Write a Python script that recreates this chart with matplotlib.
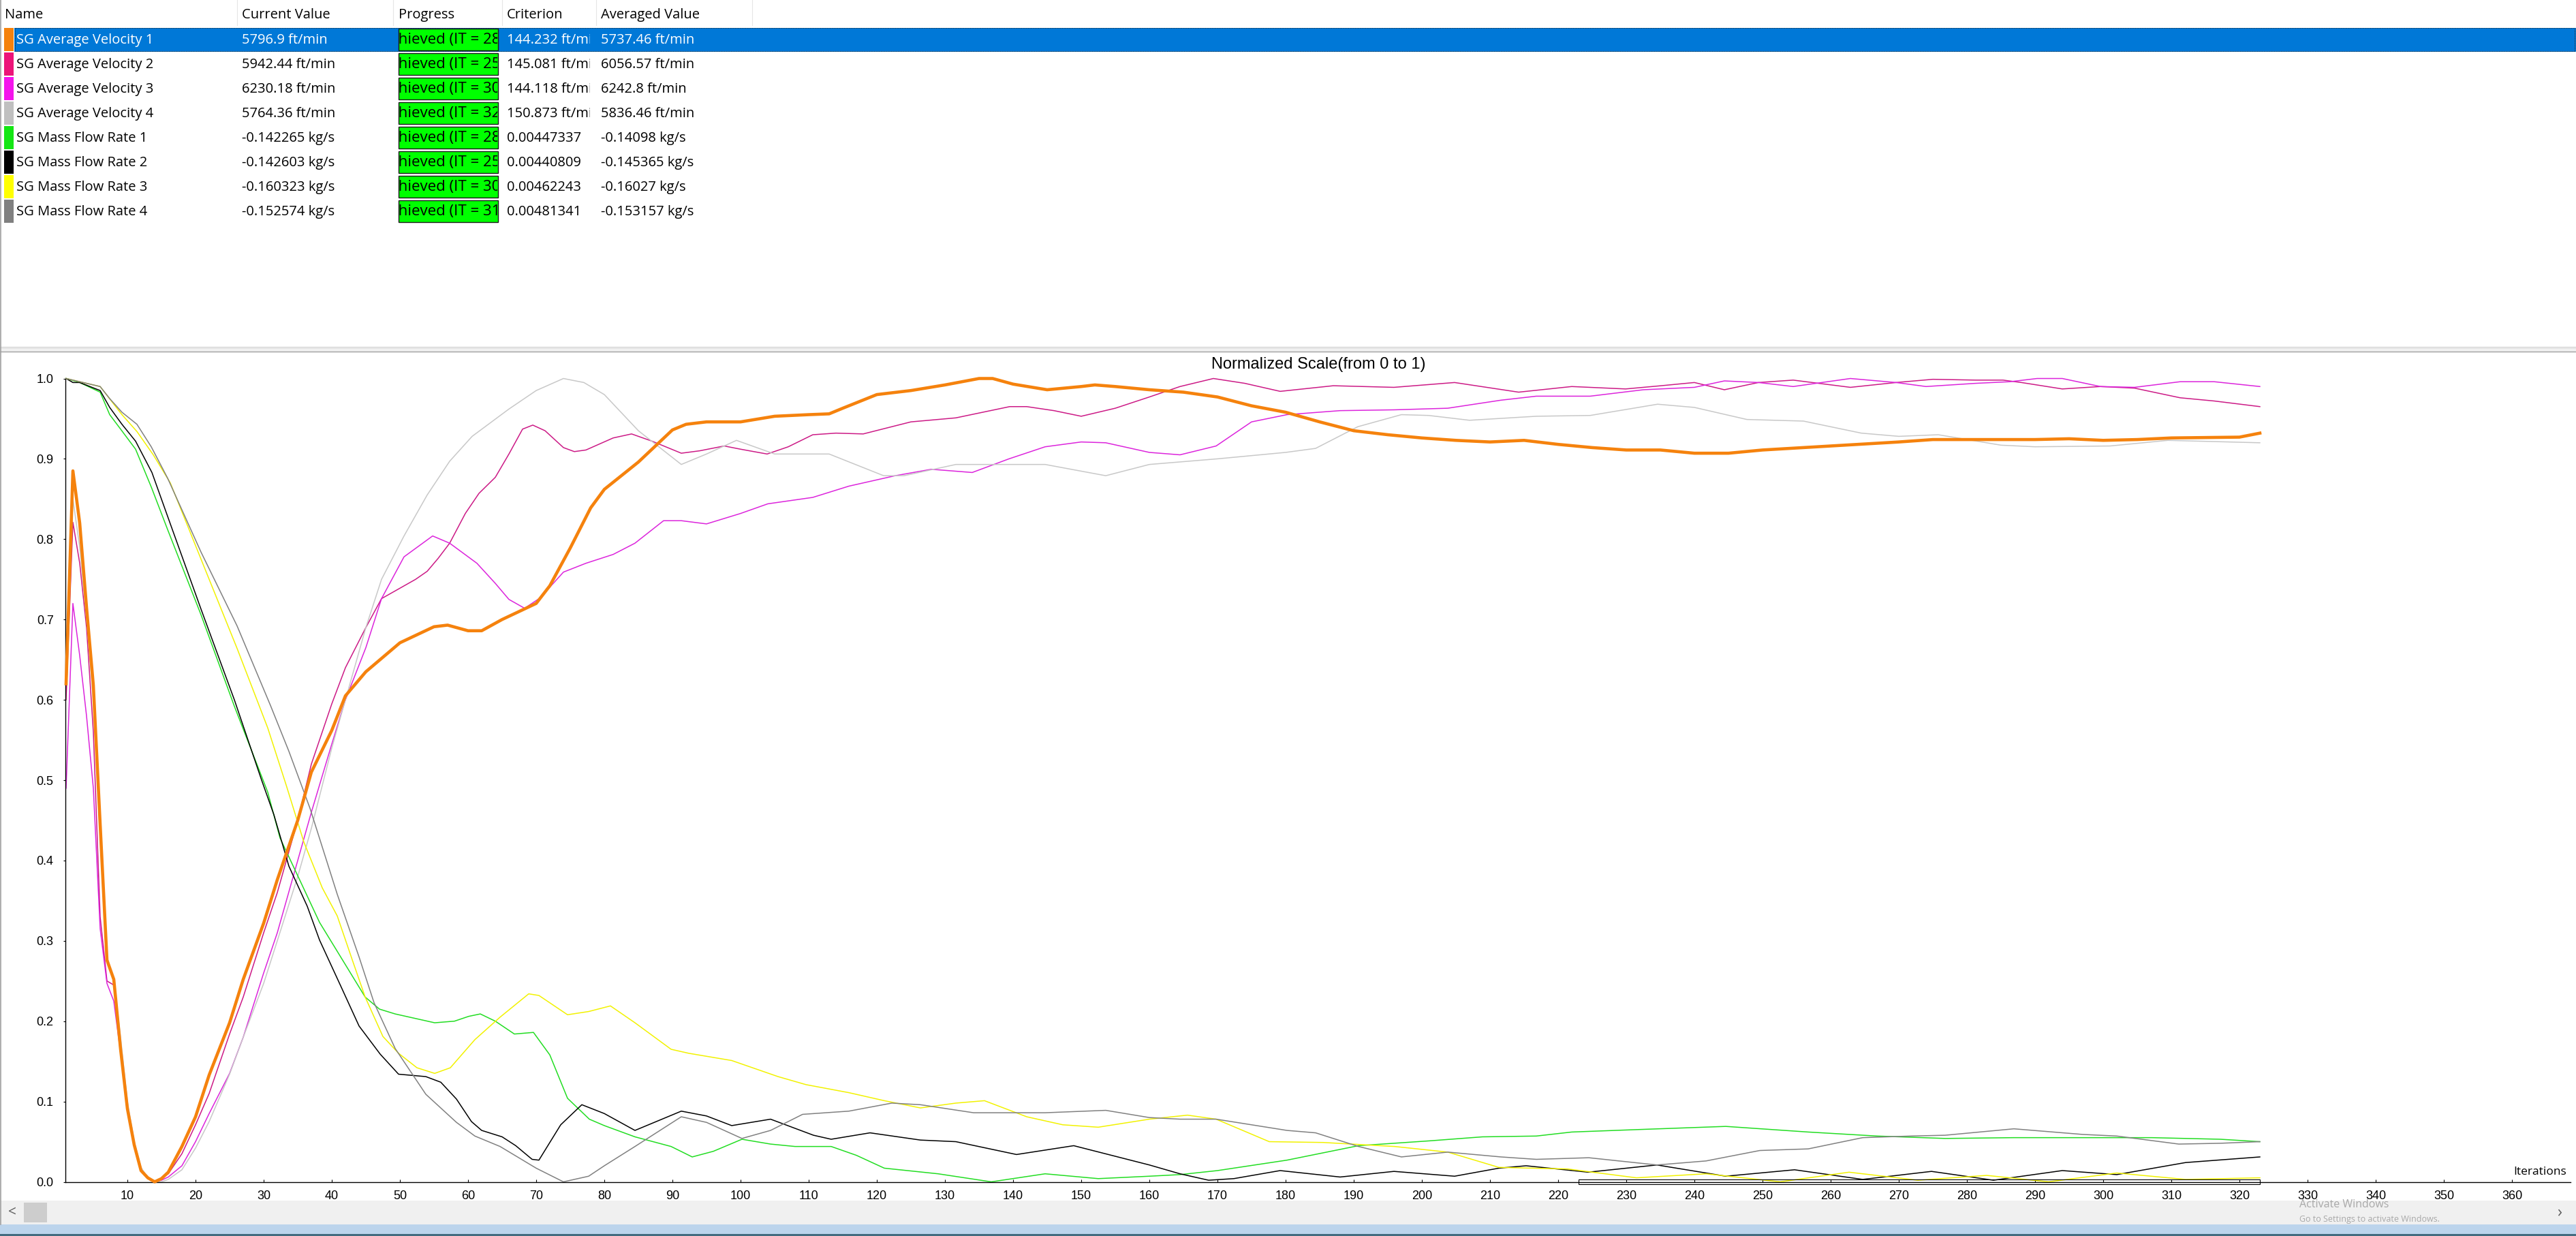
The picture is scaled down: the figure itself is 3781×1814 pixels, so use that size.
"""Residual-monitor style screenshot: table of monitors above a normalized convergence plot."""
import matplotlib
matplotlib.use("Agg")
import matplotlib.pyplot as plt                                    # noqa: E402
from matplotlib.patches import Rectangle                           # noqa: E402
from matplotlib.transforms import Bbox                             # noqa: E402

W, H = 3781, 1814
UI_FONT = ["Open Sans", "DejaVu Sans"]
PLOT_FONT = ["Liberation Sans", "DejaVu Sans"]

# ---- table ---------------------------------------------------------------
NAMES = ["SG Average Velocity 1", "SG Average Velocity 2", "SG Average Velocity 3",
         "SG Average Velocity 4", "SG Mass Flow Rate 1", "SG Mass Flow Rate 2",
         "SG Mass Flow Rate 3", "SG Mass Flow Rate 4"]
CURRENT = ["5796.9 ft/min", "5942.44 ft/min", "6230.18 ft/min", "5764.36 ft/min",
           "-0.142265 kg/s", "-0.142603 kg/s", "-0.160323 kg/s", "-0.152574 kg/s"]
PROGRESS_IT = [286, 253, 306, 323, 286, 253, 306, 319]
CRITERION = ["144.232 ft/min", "145.081 ft/min", "144.118 ft/min", "150.873 ft/min",
             "0.00447337", "0.00440809", "0.00462243", "0.00481341"]
AVERAGED = ["5737.46 ft/min", "6056.57 ft/min", "6242.8 ft/min", "5836.46 ft/min",
            "-0.14098 kg/s", "-0.145365 kg/s", "-0.16027 kg/s", "-0.153157 kg/s"]
SWATCH = ["#f5820d", "#ec1479", "#f414ec", "#c0c0c0",
          "#14e614", "#000000", "#ffff00", "#808080"]
LINE_COLORS = ["#f5820d", "#cc1a86", "#dc24dc", "#c8c8c8",
               "#22dd22", "#000000", "#f2f200", "#808080"]

# ---- series (iteration, normalized value) ---------------------------------
V1_IT = [1, 2, 3, 4, 5, 6, 7, 8, 9, 10, 11, 12, 13, 14, 15, 16, 18, 20, 22, 25, 27,
         30, 32, 35, 37, 40, 42, 45, 50, 55, 57, 60, 62, 65, 70, 72, 75, 78, 80, 85,
         90, 92, 95, 100, 105, 110, 113, 115, 120, 125, 130, 135, 137, 140, 145,
         150, 152, 155, 160, 165, 170, 175, 180, 185, 190, 195, 200, 205, 210, 215,
         220, 225, 230, 235, 240, 245, 250, 260, 270, 275, 280, 290, 295, 300, 305,
         310, 320, 323]
V1 = [0.62, 0.885, 0.82, 0.715, 0.618, 0.445, 0.276, 0.252, 0.165, 0.091, 0.046,
      0.014, 0.005, 0.0, 0.004, 0.012, 0.044, 0.081, 0.133, 0.198, 0.252, 0.322,
      0.376, 0.45, 0.51, 0.562, 0.605, 0.635, 0.671, 0.691, 0.693, 0.686, 0.686,
      0.7, 0.72, 0.742, 0.789, 0.839, 0.862, 0.896, 0.936, 0.943, 0.946, 0.946,
      0.953, 0.955, 0.956, 0.963, 0.98, 0.985, 0.992, 1.0, 1.0, 0.993, 0.986, 0.99,
      0.992, 0.99, 0.986, 0.983, 0.977, 0.966, 0.958, 0.946, 0.935, 0.93, 0.926,
      0.923, 0.921, 0.923, 0.918, 0.914, 0.911, 0.911, 0.907, 0.907, 0.911, 0.916,
      0.921, 0.924, 0.924, 0.924, 0.925, 0.923, 0.924, 0.926, 0.927, 0.932]

V2_IT = [1, 2, 3, 4, 5, 6, 7, 8, 9, 10, 11, 12, 13, 14, 16, 18, 20, 22, 25, 27, 30,
         32, 35, 37, 40, 42, 45, 47.3, 52.3, 54, 55.6, 57.3, 59.6, 61.6, 64, 66, 68,
         69.5, 71.3, 74, 75.6, 77.3, 81.3, 84, 87, 91.3, 94, 97.6, 100, 103.9, 107,
         110.6, 114, 118, 125, 131.6, 139.5, 142, 146, 150, 155, 160, 164.5, 169.4,
         174, 179.2, 187, 195.9, 204.8, 214.2, 222, 229.9, 235.1, 240, 244.4, 249.4,
         254.5, 262.9, 269.6, 275, 281.3, 285.3, 288, 294, 299.6, 304.6, 311.3,
         316.3, 323]
V2 = [0.6, 0.821, 0.77, 0.69, 0.56, 0.33, 0.25, 0.245, 0.165, 0.088, 0.045, 0.015,
      0.004, 0.0, 0.01, 0.035, 0.071, 0.11, 0.184, 0.23, 0.31, 0.36, 0.45, 0.52,
      0.595, 0.64, 0.69, 0.726, 0.75, 0.76, 0.776, 0.795, 0.832, 0.857, 0.877,
      0.906, 0.937, 0.942, 0.935, 0.914, 0.909, 0.911, 0.926, 0.931, 0.922, 0.907,
      0.91, 0.916, 0.912, 0.906, 0.915, 0.93, 0.932, 0.931, 0.946, 0.951, 0.965,
      0.965, 0.96, 0.953, 0.963, 0.977, 0.99, 1.0, 0.994, 0.984, 0.991, 0.989,
      0.995, 0.983, 0.99, 0.987, 0.991, 0.995, 0.986, 0.995, 0.998, 0.989, 0.995,
      0.999, 0.998, 0.998, 0.995, 0.987, 0.99, 0.988, 0.976, 0.972, 0.965]

V3_IT = [1, 2, 3, 4, 5, 6, 7, 8, 9, 10, 11, 12, 13, 14, 15, 16, 18, 20, 22, 25, 27,
         30, 32, 35, 37, 40, 42, 45, 47.3, 50.6, 54.8, 57.3, 61.3, 64, 66, 68.3,
         70.6, 74, 77.3, 81.3, 84.5, 88.7, 91.3, 95, 100, 104, 110.6, 115.9, 122.7,
         128, 134, 139.4, 144.7, 150, 153.6, 160, 164.5, 169.8, 175, 180.2, 188,
         195.9, 203.8, 211.6, 216.8, 224.7, 232.5, 240, 244.4, 249.4, 254.5, 262.9,
         269.6, 274, 281.3, 286.3, 290.3, 294, 299.6, 304.6, 311.3, 316.3, 323]
V3 = [0.49, 0.72, 0.655, 0.58, 0.49, 0.315, 0.247, 0.225, 0.16, 0.088, 0.045,
      0.015, 0.004, 0.0, 0.002, 0.006, 0.02, 0.05, 0.085, 0.135, 0.18, 0.26, 0.31,
      0.4, 0.46, 0.545, 0.6, 0.665, 0.726, 0.778, 0.804, 0.795, 0.77, 0.745, 0.725,
      0.714, 0.727, 0.759, 0.77, 0.781, 0.795, 0.823, 0.823, 0.819, 0.832, 0.844,
      0.852, 0.866, 0.879, 0.887, 0.883, 0.9, 0.915, 0.921, 0.92, 0.908, 0.905,
      0.916, 0.946, 0.955, 0.96, 0.961, 0.963, 0.973, 0.978, 0.978, 0.986, 0.989,
      0.997, 0.995, 0.99, 1.0, 0.995, 0.99, 0.994, 0.996, 1.0, 1.0, 0.99, 0.989,
      0.996, 0.996, 0.99]

V4_IT = [1, 2, 3, 4, 5, 6, 7, 8, 9, 10, 11, 12, 13, 14, 15, 16, 18, 20, 22, 25, 27,
         30, 32, 35, 37, 40, 42, 45, 47.3, 50.6, 54, 57.3, 60.6, 66, 70, 74, 77, 80,
         85, 91.3, 95, 99.4, 105, 113, 121, 124, 131.6, 144.7, 153.6, 160, 170, 180,
         184.4, 190.6, 197, 201, 207, 216.8, 224.7, 234.6, 240, 247.7, 256, 264.5,
         270, 275.8, 285, 290, 301, 309.5, 323]
V4 = [0.62, 0.85, 0.79, 0.7, 0.6, 0.43, 0.28, 0.25, 0.18, 0.1, 0.05, 0.018, 0.005,
      0.0, 0.0, 0.003, 0.015, 0.042, 0.075, 0.134, 0.18, 0.247, 0.3, 0.38, 0.44,
      0.54, 0.6, 0.69, 0.75, 0.804, 0.855, 0.897, 0.928, 0.962, 0.985, 1.0, 0.995,
      0.98, 0.935, 0.893, 0.906, 0.923, 0.906, 0.906, 0.879, 0.879, 0.893, 0.893,
      0.879, 0.893, 0.9, 0.908, 0.913, 0.94, 0.955, 0.954, 0.948, 0.953, 0.954,
      0.968, 0.964, 0.949, 0.947, 0.932, 0.928, 0.93, 0.917, 0.915, 0.916, 0.923,
      0.92]

M1_IT = [1, 3, 6, 7.4, 9, 11.2, 13.5, 15.9, 20.8, 25.7, 30.6, 32.4, 35.5, 38.2,
         41.3, 44.9, 47, 49.3, 55.1, 58, 60.1, 61.8, 64, 66.8, 69.6, 72, 74.6, 77.8,
         80, 84.5, 89.8, 92.9, 96, 100.2, 104.4, 108, 113.3, 117, 121.1, 129, 136.8,
         144.7, 152.5, 160, 164.5, 170, 180.2, 190.7, 201.1, 208.9, 216.8, 222,
         231.5, 244.6, 256.7, 266.8, 276.8, 286.9, 297, 307.1, 317.2, 323]
M1 = [1.0, 0.995, 0.983, 0.955, 0.937, 0.912, 0.865, 0.812, 0.706, 0.592, 0.485,
      0.428, 0.372, 0.323, 0.28, 0.23, 0.215, 0.209, 0.198, 0.2, 0.206, 0.209, 0.2,
      0.184, 0.186, 0.158, 0.104, 0.078, 0.07, 0.056, 0.044, 0.031, 0.038, 0.053,
      0.047, 0.044, 0.044, 0.033, 0.017, 0.01, 0.0, 0.01, 0.004, 0.007, 0.009,
      0.014, 0.027, 0.045, 0.051, 0.056, 0.057, 0.062, 0.065, 0.069, 0.062, 0.057,
      0.054, 0.055, 0.055, 0.055, 0.053, 0.05]

M2_IT = [1, 2, 3, 6, 7.4, 9.2, 11.2, 13.6, 16.3, 20.8, 25.7, 29.7, 31.5, 33.7, 36.4,
         38.2, 41.3, 44, 47.1, 49.8, 53.8, 56, 58.3, 60.5, 62, 65, 67, 69.4, 70.4,
         73.6, 76.7, 80, 84.5, 91.3, 95, 98.7, 104.4, 110.7, 113.3, 119, 126.4,
         131.6, 140.5, 148.9, 160, 164.5, 168.7, 172.4, 179.2, 188, 195.9, 204.8,
         211.3, 215.3, 224.4, 234.5, 244.6, 254.7, 264.7, 274.8, 283.9, 294, 302,
         312.1, 323]
M2 = [1.0, 0.995, 0.995, 0.985, 0.964, 0.943, 0.922, 0.883, 0.819, 0.713, 0.6, 0.5,
      0.457, 0.393, 0.343, 0.301, 0.244, 0.194, 0.159, 0.134, 0.131, 0.124, 0.103,
      0.075, 0.064, 0.056, 0.045, 0.028, 0.027, 0.071, 0.096, 0.085, 0.064, 0.088,
      0.082, 0.07, 0.078, 0.058, 0.053, 0.061, 0.052, 0.05, 0.034, 0.045, 0.021,
      0.01, 0.002, 0.004, 0.014, 0.006, 0.013, 0.007, 0.017, 0.02, 0.012, 0.021,
      0.007, 0.015, 0.003, 0.013, 0.002, 0.014, 0.009, 0.024, 0.031]

M3_IT = [1, 6, 9.2, 11.4, 13.8, 16.3, 21, 26.1, 30.6, 33.3, 35.9, 38.6, 40.8, 43.1,
         44.9, 47.5, 49.8, 52.5, 55.1, 57.4, 61, 64.7, 68.9, 70.4, 74.6, 77.7, 80.9,
         84.5, 89.8, 92.4, 98.7, 105.5, 109.6, 115.9, 121.1, 126.4, 131.6, 135.8,
         142, 147.3, 152.5, 160, 165.6, 169.8, 177.6, 185.5, 196, 203.8, 211.3,
         221.4, 231.5, 241.7, 252.6, 262.7, 272.8, 282.9, 292, 302, 312.1, 323]
M3 = [1.0, 0.99, 0.955, 0.934, 0.905, 0.87, 0.771, 0.664, 0.565, 0.494, 0.423,
      0.366, 0.331, 0.274, 0.23, 0.181, 0.16, 0.142, 0.135, 0.142, 0.177, 0.205,
      0.234, 0.232, 0.208, 0.212, 0.219, 0.198, 0.165, 0.16, 0.151, 0.131, 0.121,
      0.111, 0.101, 0.092, 0.098, 0.101, 0.081, 0.071, 0.068, 0.078, 0.083, 0.078,
      0.05, 0.049, 0.044, 0.037, 0.018, 0.016, 0.005, 0.01, 0.0, 0.012, 0.002,
      0.008, 0.0, 0.011, 0.003, 0.005]

M4_IT = [1, 6, 7.4, 9.2, 11.4, 13.5, 15.9, 20.8, 26.1, 31, 33.7, 36.8, 40.8, 44,
         46.2, 49.3, 53.8, 58.3, 61, 64.7, 70, 74, 77.7, 80, 84.5, 91.3, 95, 100.2,
         104.4, 109.1, 115.9, 122.2, 126.4, 134.2, 144.7, 153.6, 160, 164.5, 169.8,
         180.2, 184.4, 190.7, 197, 203.8, 211.6, 216.8, 224.5, 234.5, 241.7, 249.6,
         256.7, 264.7, 271.8, 276.8, 286.9, 297, 302, 311.1, 317.2, 323]
M4 = [1.0, 0.99, 0.975, 0.958, 0.943, 0.915, 0.876, 0.784, 0.692, 0.593, 0.536,
      0.465, 0.358, 0.28, 0.223, 0.166, 0.109, 0.074, 0.057, 0.044, 0.017, 0.0,
      0.007, 0.02, 0.044, 0.081, 0.074, 0.054, 0.064, 0.084, 0.088, 0.098, 0.096,
      0.086, 0.086, 0.089, 0.08, 0.078, 0.078, 0.064, 0.061, 0.044, 0.031, 0.037,
      0.031, 0.028, 0.03, 0.021, 0.026, 0.039, 0.041, 0.055, 0.057, 0.058, 0.066,
      0.059, 0.057, 0.047, 0.048, 0.05]

SERIES = [(V1_IT, V1), (V2_IT, V2), (V3_IT, V3), (V4_IT, V4),
          (M1_IT, M1), (M2_IT, M2), (M3_IT, M3), (M4_IT, M4)]
SELECTED = 0
AVG_WINDOW = (223, 323)
X_TICKS = list(range(10, 361, 10))
Y_TICKS = [0.0, 0.1, 0.2, 0.3, 0.4, 0.5, 0.6, 0.7, 0.8, 0.9, 1.0]

# pixel geometry of the screenshot
ROW0, ROW_H = 40.7, 36.0
COL_X = [23.5, 355, 585, 744, 882]
HDR_X = [7, 355, 585, 744, 882]
HEADERS = ["Name", "Current Value", "Progress", "Criterion", "Averaged Value"]
SEP_X = [348, 577, 737, 875, 1104]
PBOX = (584.5, 731)
FS = 14.5


def clip_px(x0, y0, x1, y1):
    # display coords (dpi 100, origin bottom-left)
    return Bbox.from_extents(x0, H - y1, x1, H - y0)


def rect(ax, x0, y0, x1, y1, **kw):
    ax.add_patch(Rectangle((x0, y0), x1 - x0, y1 - y0, **kw))


def main():
    fig = plt.figure(figsize=(W / 100, H / 100), dpi=100)
    fig.patch.set_facecolor("white")
    ui = fig.add_axes([0, 0, 1, 1])
    ui.set_xlim(0, W)
    ui.set_ylim(H, 0)
    ui.axis("off")

    # --- monitor table
    for x in SEP_X:
        ui.plot([x, x], [0, 37], color="#e5e5e5", lw=0.8)
    for x, s in zip(HDR_X, HEADERS):
        ui.text(x, 22, s, fontsize=FS, family=UI_FONT, va="center", ha="left")

    for i, name in enumerate(NAMES):
        top = ROW0 + i * ROW_H
        bot = top + ROW_H - 0.8
        yc = top + 18
        rect(ui, 6, top, 20, bot - 0.6, color=SWATCH[i], lw=0)
        sel = i == SELECTED
        if sel:
            rect(ui, 21, top, W, bot, color="#0078d7", lw=0)
            rect(ui, 22, top + 0.5, W - 2, bot - 0.5, fill=False, ec="#202020",
                 lw=0.6, ls=(0, (1, 1)))
        fg = "white" if sel else "black"
        ui.text(COL_X[0], yc, name, fontsize=FS, family=UI_FONT, va="center",
                color=fg)
        ui.text(COL_X[1], yc, CURRENT[i], fontsize=FS, family=UI_FONT,
                va="center", color=fg)
        rect(ui, PBOX[0], top + 1, PBOX[1], bot - 1.5, fc="#00ff00", ec="#1a1a1a",
             lw=1.0)
        # the cell text is wider than the bar, so only its middle shows
        t = ui.text(PBOX[0] - 25, yc, f"Achieved (IT = {PROGRESS_IT[i]})",
                    fontsize=FS + 1.5, family=UI_FONT, va="center", ha="left",
                    clip_on=True)
        t.set_clip_box(clip_px(PBOX[0] + 1, top, PBOX[1] - 1, bot))
        t = ui.text(COL_X[3], yc, CRITERION[i], fontsize=FS, family=UI_FONT,
                    va="center", color=fg, clip_on=True)
        t.set_clip_box(clip_px(SEP_X[2], top, SEP_X[3] - 9, bot))
        ui.text(COL_X[4], yc, AVERAGED[i], fontsize=FS, family=UI_FONT,
                va="center", color=fg)

    # splitter between the panes and window frame
    rect(ui, 0, 508, W, 516, color="#f0f0f0", lw=0)
    ui.plot([0, W], [509.5, 509.5], color="#d0d0d0", lw=0.8)
    ui.plot([0, W], [516, 516], color="#a0a0a0", lw=1.0)
    ui.plot([1, 1], [0, 1797], color="#a0a0a0", lw=1.2)

    # bottom scrollbar + task strip
    rect(ui, 0, 1762, W, 1797, color="#f0f0f0", lw=0)
    rect(ui, 35, 1765, 69, 1794, color="#cdcdcd", lw=0)
    ui.text(18, 1779, "<", fontsize=15, family=UI_FONT, color="#606060",
            va="center", ha="center")
    ui.text(3757, 1779, "\u203a", fontsize=17, family=UI_FONT, color="#606060",
            va="center", ha="center")
    rect(ui, 0, 1797, W, 1814, color="#bcd4ec", lw=0)
    ui.plot([0, W], [1812, 1812], color="#3a6478", lw=2)
    ui.text(3375, 1768, "Activate Windows", fontsize=11.5, family=UI_FONT,
            color="#a8a8a8", va="center")
    ui.text(3375, 1789, "Go to Settings to activate Windows.", fontsize=9,
            family=UI_FONT, color="#a8a8a8", va="center")

    # title and axis caption
    ui.text(1935, 535, "Normalized Scale(from 0 to 1)", fontsize=17,
            family=PLOT_FONT, ha="center", va="center")
    ui.text(3767, 1720, "Iterations", fontsize=12.5, family=UI_FONT,
            ha="right", va="center")

    # --- plot
    ax = fig.add_axes([96 / W, (H - 1734.5) / H, (3773 - 96) / W,
                       (1734.5 - 555.5) / H])
    ax.patch.set_visible(False)
    ax.set_xlim(0.9, 368.6)
    ax.set_ylim(0, 1)
    for s in ("top", "right"):
        ax.spines[s].set_visible(False)
    for s in ("left", "bottom"):
        ax.spines[s].set_color("black")
        ax.spines[s].set_linewidth(1.0)
    ax.set_xticks(X_TICKS)
    ax.set_xticklabels([str(v) for v in X_TICKS])
    ax.set_yticks(Y_TICKS)
    ax.set_yticklabels([f"{v:.1f}" for v in Y_TICKS])
    ax.tick_params(axis="x", direction="in", length=3, width=0.8, pad=9,
                   labelsize=13)
    ax.tick_params(axis="y", direction="out", length=2.5, width=0.8, pad=10,
                   labelsize=13)
    for lab in ax.get_xticklabels() + ax.get_yticklabels():
        lab.set_family(PLOT_FONT)

    order = [i for i in range(len(SERIES)) if i != SELECTED] + [SELECTED]
    for i in order:
        it, val = SERIES[i]
        sel = i == SELECTED
        ax.plot(it, val, color=LINE_COLORS[i], lw=3.3 if sel else 1.1,
                solid_joinstyle="round", clip_on=False, zorder=3 if sel else 2)

    ax.add_patch(Rectangle((AVG_WINDOW[0], -0.0026), AVG_WINDOW[1] - AVG_WINDOW[0],
                           0.0052, fill=False, ec="black", lw=0.8, clip_on=False,
                           zorder=4))

    fig.savefig("out.png", dpi=100, facecolor="white")


if __name__ == "__main__":
    main()
